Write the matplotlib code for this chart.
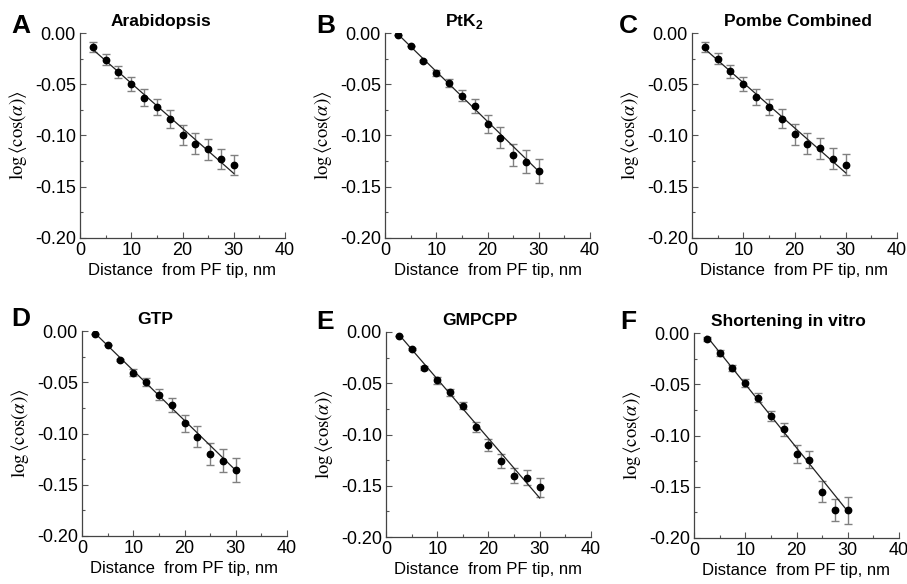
import matplotlib
matplotlib.use("Agg")
import matplotlib.pyplot as plt
from matplotlib.ticker import MultipleLocator, FormatStrFormatter

plt.rcParams['font.family'] = ['Liberation Sans', 'DejaVu Sans']
plt.rcParams['mathtext.fontset'] = 'custom'
plt.rcParams['mathtext.rm'] = 'Liberation Sans'
plt.rcParams['mathtext.bf'] = 'Liberation Sans:bold'

# distance from PF tip, nm
dist = [2.5, 5, 7.5, 10, 12.5, 15, 17.5, 20, 22.5, 25, 27.5, 30]

arab_y = [-0.014, -0.026, -0.038, -0.050, -0.063, -0.072, -0.084, -0.0995, -0.108, -0.1135, -0.123, -0.129]
arab_e = [0.005, 0.0057, 0.006, 0.0067, 0.008, 0.008, 0.009, 0.010, 0.010, 0.010, 0.010, 0.010]
arab_fit = [-0.016, -0.137]

ptk_y = [-0.0016, -0.0124, -0.027, -0.039, -0.049, -0.061, -0.071, -0.0887, -0.102, -0.119, -0.1256, -0.1347]
ptk_e = [0, 0, 0.001, 0.0033, 0.004, 0.005, 0.007, 0.0085, 0.010, 0.011, 0.011, 0.0117]
ptk_fit = [-0.001, -0.135]

pombe_y = [-0.0135, -0.025, -0.0375, -0.050, -0.0625, -0.072, -0.0835, -0.099, -0.108, -0.1125, -0.1225, -0.1285]
pombe_e = [0.005, 0.0057, 0.006, 0.0067, 0.008, 0.008, 0.009, 0.010, 0.010, 0.010, 0.010, 0.010]
pombe_fit = [-0.0155, -0.1365]

gtp_y = [-0.0026, -0.0137, -0.0283, -0.0407, -0.050, -0.062, -0.072, -0.090, -0.103, -0.120, -0.1265, -0.136]
gtp_e = [0, 0, 0.001, 0.0033, 0.004, 0.005, 0.007, 0.0085, 0.010, 0.011, 0.011, 0.0117]
gtp_fit = [-0.002, -0.136]

gmp_y = [-0.0039, -0.0167, -0.035, -0.047, -0.059, -0.072, -0.093, -0.110, -0.126, -0.140, -0.142, -0.1515]
gmp_e = [0, 0.001, 0.0023, 0.0035, 0.003, 0.0036, 0.005, 0.006, 0.007, 0.0072, 0.0074, 0.009]
gmp_fit = [-0.0023, -0.162]

short_y = [-0.0059, -0.0197, -0.034, -0.049, -0.063, -0.0807, -0.094, -0.118, -0.1236, -0.1548, -0.1725, -0.173]
short_e = [0.002, 0.003, 0.003, 0.004, 0.004, 0.005, 0.006, 0.0087, 0.008, 0.0105, 0.011, 0.013]
short_fit = [-0.0033, -0.174]

fit_x = [2.5, 30]

panels = [
    ("A", "Arabidopsis", arab_y, arab_e, arab_fit),
    ("B", r"PtK$_\mathbf{2}$", ptk_y, ptk_e, ptk_fit),
    ("C", "Pombe Combined", pombe_y, pombe_e, pombe_fit),
    ("D", "GTP", gtp_y, gtp_e, gtp_fit),
    ("E", "GMPCPP", gmp_y, gmp_e, gmp_fit),
    ("F", "Shortening in vitro", short_y, short_e, short_fit),
]

# layout in pixels (left, top of axes), title x fraction, letter position
lefts = [80, 385, 692, 82, 386, 694]
tops = [33, 33, 33, 331, 332, 333]
title_fx = [0.395, 0.385, 0.517, 0.358, 0.46, 0.46]
letter_xy = [(11, 33), (316, 33), (619, 33), (11, 326), (316, 329), (620, 329)]

W, H = 907, 584
fig = plt.figure(figsize=(W / 100, H / 100), dpi=100)

for i, (letter, title, y, e, fit) in enumerate(panels):
    ax = fig.add_axes([lefts[i] / W, (H - tops[i] - 205) / H, 205 / W, 205 / H])
    ax.errorbar(dist, y, yerr=e, fmt='none', ecolor='#808080', elinewidth=1,
                capsize=2.8, capthick=1, zorder=2)
    ax.plot(fit_x, fit, color='#222222', lw=0.9, zorder=3)
    ax.plot(dist, y, 'o', color='black', ms=4.6, zorder=4)
    ax.set_xlim(0, 40)
    ax.set_ylim(-0.20, 0.0)
    ax.xaxis.set_major_locator(MultipleLocator(10))
    ax.xaxis.set_minor_locator(MultipleLocator(5))
    ax.yaxis.set_major_locator(MultipleLocator(0.05))
    ax.yaxis.set_minor_locator(MultipleLocator(0.025))
    ax.yaxis.set_major_formatter(FormatStrFormatter('%.2f'))
    ax.tick_params(which='major', direction='in', length=4, width=0.8,
                   color='#555555', labelsize=13, pad=3)
    ax.tick_params(which='minor', direction='in', length=2.5, width=0.8, color='#555555')
    for s in ['top', 'right']:
        ax.spines[s].set_visible(False)
    for s in ['left', 'bottom']:
        ax.spines[s].set_color('#444444')
        ax.spines[s].set_linewidth(0.9)
    ax.set_xlabel("Distance  from PF tip, nm", fontsize=12, labelpad=3)
    ax.set_ylabel(r"$\log\langle\cos(\alpha)\rangle$", fontsize=13.5,
                  labelpad=4, math_fontfamily='stix')
    ax.text(title_fx[i], 1.058, title, transform=ax.transAxes, ha='center',
            va='center', fontsize=12.5, fontweight='bold')
    lx, ly = letter_xy[i]
    fig.text(lx / W, 1 - ly / H, letter, ha='left', va='baseline',
             fontsize=19, fontweight='bold')

fig.savefig("out.png", dpi=100)
